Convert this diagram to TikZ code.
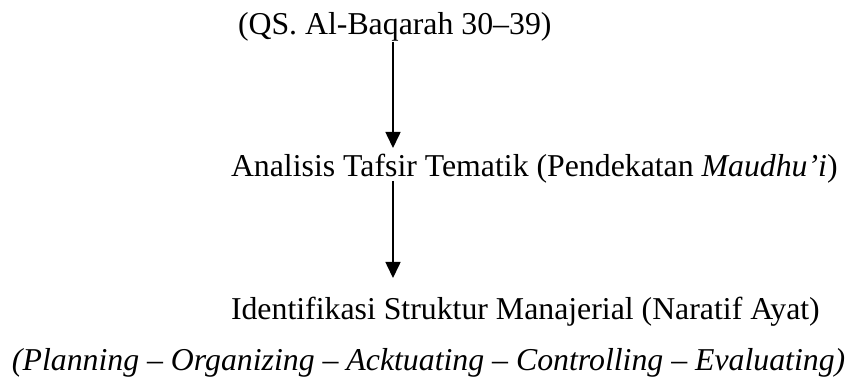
\documentclass[tikz,border=0pt]{standalone}
\usepackage{fontspec}
\setmainfont{Liberation Serif}
\usetikzlibrary{arrows.meta}
\tikzset{
  lbl/.style={anchor=base west, inner sep=0pt, outer sep=0pt, font=\fontsize{31.8}{36}\selectfont},
  arr/.style={line width=1.6pt, -{Triangle[width=15pt,length=16pt]}},
}
\begin{document}
\begin{tikzpicture}[x=1pt,y=-1pt]
\useasboundingbox (0,0) rectangle (851,379);
\node[lbl] (t1) at (238,35) {(QS. Al-Baqarah 30--39)};
\node[lbl] (t2) at (231,177) {Analisis Tafsir Tematik (Pendekatan \textit{Maudhu'i})};
\node[lbl] (t3) at (231,319) {Identifikasi Struktur Manajerial (Naratif Ayat)};
\node[lbl] (t4) at (12,370) {\textit{(Planning -- Organizing -- Acktuating -- Controlling -- Evaluating)}};
\coordinate (a1s) at (393,42);
\coordinate (a1e) at (393,148);
\coordinate (a2s) at (393,181);
\coordinate (a2e) at (393,278);
\draw[arr] (a1s) -- (a1e);
\draw[arr] (a2s) -- (a2e);
\end{tikzpicture}
\end{document}
